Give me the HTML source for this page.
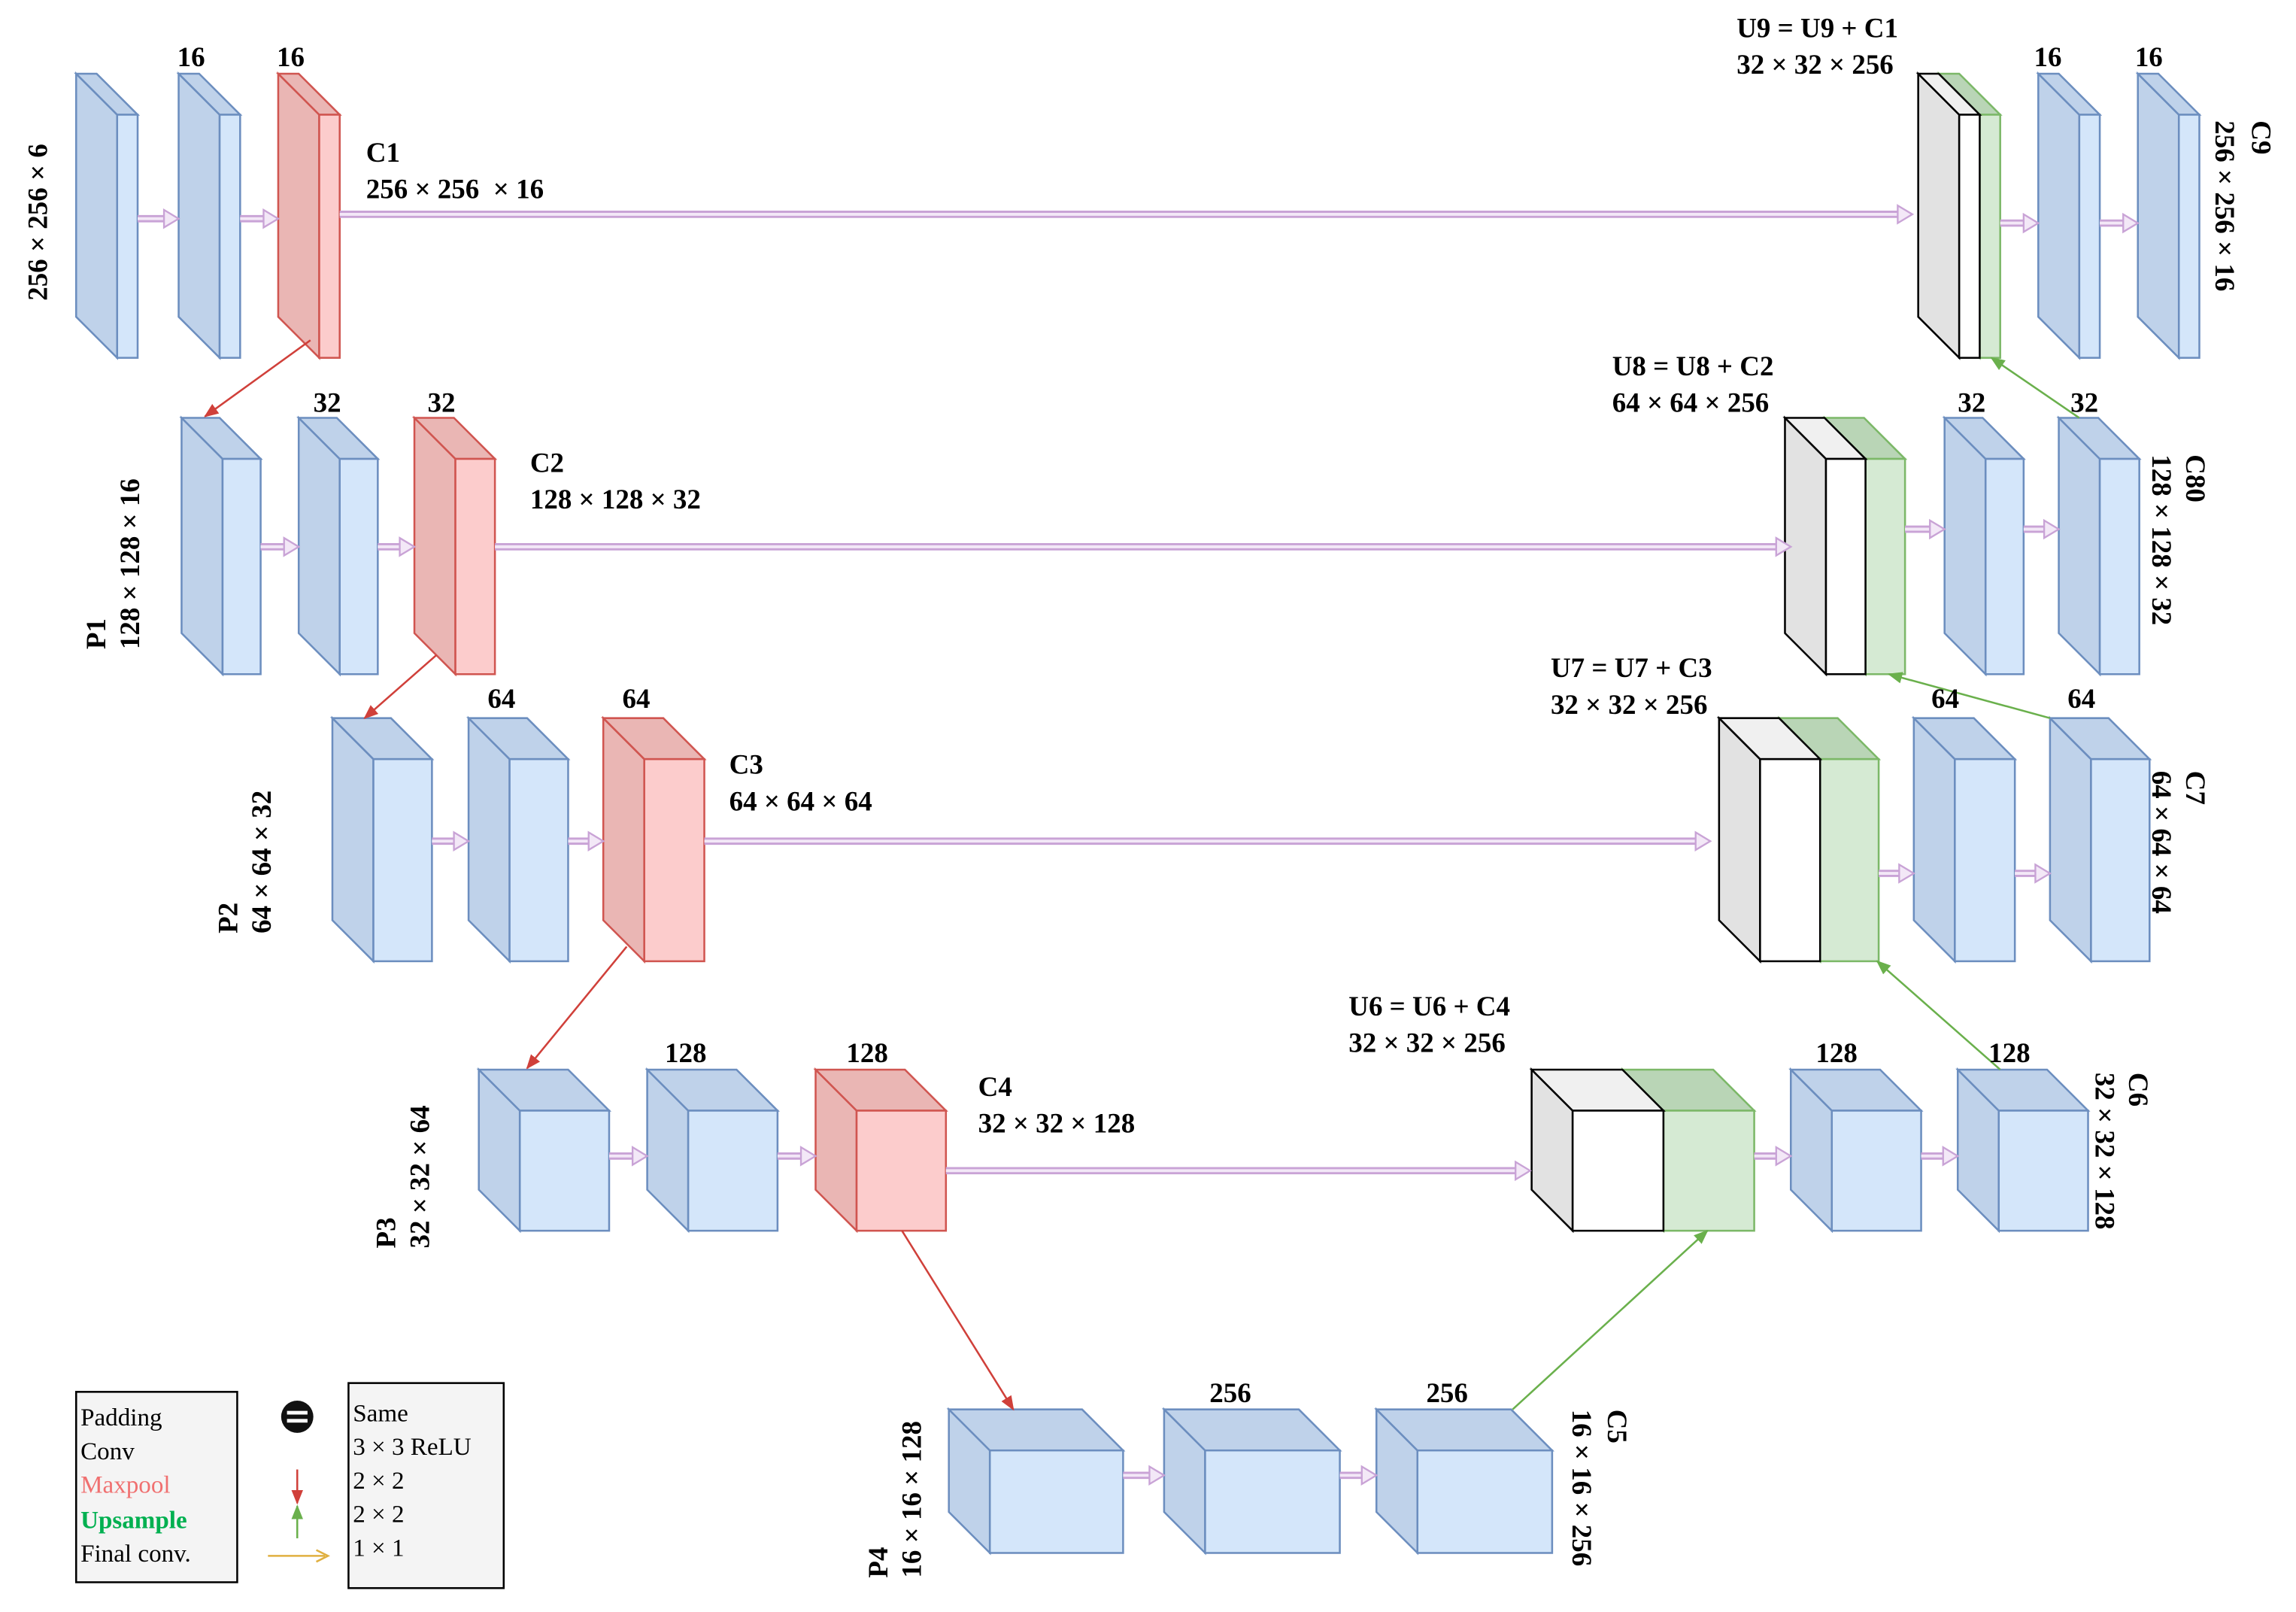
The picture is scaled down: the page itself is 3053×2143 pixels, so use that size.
<!DOCTYPE html>
<html><head><meta charset="utf-8"><style>
html,body{margin:0;padding:0;background:#fff}
svg{display:block}
text{font-family:"Liberation Serif",serif;font-weight:bold;font-size:19px;fill:#000}
.n{font-weight:normal}
</style></head><body>
<svg width="3053" height="2143" viewBox="0 0 1568 1100" xmlns="http://www.w3.org/2000/svg">
<defs>
<marker id="mr" markerWidth="10" markerHeight="10" refX="9" refY="5" orient="auto" markerUnits="userSpaceOnUse"><path d="M0,1 L10,5 L0,9 z" fill="#d0403a"/></marker>
<marker id="mg" markerWidth="10" markerHeight="10" refX="9" refY="5" orient="auto" markerUnits="userSpaceOnUse"><path d="M0,1 L10,5 L0,9 z" fill="#6ab04c"/></marker>
</defs>
<g id="blocks" stroke-width="1.3"></g>
<g id="arrows"></g>
<text x="121" y="45">16</text><text x="189" y="45">16</text>
<text x="250" y="110">C1</text><text x="250" y="135">256 × 256 &#160;× 16</text>
<text x="1186" y="25">U9 = U9 + C1</text><text x="1186" y="50">32 × 32 × 256</text>
<text x="1389" y="45">16</text><text x="1458" y="45">16</text>
<text x="214" y="281">32</text><text x="292" y="281">32</text>
<text x="362" y="322">C2</text><text x="362" y="347">128 × 128 × 32</text>
<text x="1101" y="256">U8 = U8 + C2</text><text x="1101" y="281">64 × 64 × 256</text>
<text x="1337" y="281">32</text><text x="1414" y="281">32</text>
<text x="333" y="483">64</text><text x="425" y="483">64</text>
<text x="498" y="528">C3</text><text x="498" y="553">64 × 64 × 64</text>
<text x="1059" y="462">U7 = U7 + C3</text><text x="1059" y="487">32 × 32 × 256</text>
<text x="1319" y="483">64</text><text x="1412" y="483">64</text>
<text x="454" y="725">128</text><text x="578" y="725">128</text>
<text x="668" y="748">C4</text><text x="668" y="773">32 × 32 × 128</text>
<text x="921" y="693">U6 = U6 + C4</text><text x="921" y="718">32 × 32 × 256</text>
<text x="1240" y="725">128</text><text x="1358" y="725">128</text>
<text x="826" y="957">256</text><text x="974" y="957">256</text>
<text transform="translate(32,205) rotate(-90)">256 × 256 × 6</text>
<text transform="translate(72,443) rotate(-90)">P1</text><text transform="translate(95,443) rotate(-90)">128 × 128 × 16</text>
<text transform="translate(162,637) rotate(-90)">P2</text><text transform="translate(185,637) rotate(-90)">64 × 64 × 32</text>
<text transform="translate(270,852) rotate(-90)">P3</text><text transform="translate(293,852) rotate(-90)">32 × 32 × 64</text>
<text transform="translate(606,1077) rotate(-90)">P4</text><text transform="translate(629,1077) rotate(-90)">16 × 16 × 128</text>
<text transform="translate(1538,82) rotate(90)">C9</text><text transform="translate(1513,82) rotate(90)">256 × 256 × 16</text>
<text transform="translate(1493,310) rotate(90)">C80</text><text transform="translate(1470,310) rotate(90)">128 × 128 × 32</text>
<text transform="translate(1493,526) rotate(90)">C7</text><text transform="translate(1470,526) rotate(90)">64 × 64 × 64</text>
<text transform="translate(1454,732) rotate(90)">C6</text><text transform="translate(1431,732) rotate(90)">32 × 32 × 128</text>
<text transform="translate(1098,962) rotate(90)">C5</text><text transform="translate(1074,962) rotate(90)">16 × 16 × 256</text>
<rect x="52" y="950" width="110" height="130" fill="#f4f4f4" stroke="#000" stroke-width="1.3"/>
<text class="n" x="55" y="973" style="font-size:17px">Padding</text>
<text class="n" x="55" y="996" style="font-size:17px">Conv</text>
<text class="n" x="55" y="1019" style="font-size:17px;fill:#f07070">Maxpool</text>
<text x="55" y="1043" style="font-size:17px;fill:#00b050">Upsample</text>
<text class="n" x="55" y="1066" style="font-size:17px">Final conv.</text>
<rect x="238" y="944" width="106" height="140" fill="#f4f4f4" stroke="#000" stroke-width="1.3"/>
<text class="n" x="241" y="970" style="font-size:17px">Same</text>
<text class="n" x="241" y="993" style="font-size:17px">3 × 3 ReLU</text>
<text class="n" x="241" y="1016" style="font-size:17px">2 × 2</text>
<text class="n" x="241" y="1039" style="font-size:17px">2 × 2</text>
<text class="n" x="241" y="1062" style="font-size:17px">1 × 1</text>
<circle cx="203" cy="967" r="11" fill="#111"/><rect x="196" y="963" width="14" height="2.5" fill="#fff"/><rect x="196" y="968.5" width="14" height="2.5" fill="#fff"/>
<line x1="203" y1="1003" x2="203" y2="1026" stroke="#d0403a" stroke-width="1.3" marker-end="url(#mr)"/>
<line x1="203" y1="1050" x2="203" y2="1028" stroke="#6ab04c" stroke-width="1.3" marker-end="url(#mg)"/>
<line x1="183" y1="1062" x2="222" y2="1062" stroke="#e0b040" stroke-width="1.3"/><path d="M216,1058 L224,1062 L216,1066" fill="none" stroke="#e0b040" stroke-width="1.3"/>
</svg>
<script>
const NS="http://www.w3.org/2000/svg";
const B=document.getElementById('blocks'),A=document.getElementById('arrows');
const C={b:['#d4e6fa','#bfd2ea','#6c8ebf'],r:['#fccccc','#eab6b4','#d05550'],g:['#d5ead3','#b9d5b6','#7cb868'],w:['#ffffff','#e2e2e2','#000']};
function el(t,a,p){const e=document.createElementNS(NS,t);for(const k in a)e.setAttribute(k,a[k]);(p||B).appendChild(e);return e;}
function cube(x1,x2,y1,y2,d,c){const [f,s,st]=C[c];
 el('polygon',{points:`${x1-d},${y1-d} ${x1},${y1} ${x1},${y2} ${x1-d},${y2-d}`,fill:s,stroke:st});
 el('polygon',{points:`${x1-d},${y1-d} ${x2-d},${y1-d} ${x2},${y1} ${x1},${y1}`,fill:c=='w'?'#f0f0f0':s,stroke:st});
 el('rect',{x:x1,y:y1,width:x2-x1,height:y2-y1,fill:f,stroke:st});}
const rows=[
 [78,244,[[80,94,'b'],[150,164,'b'],[218,232,'r'],[1352,1366,'g'],[1338,1352,'w'],[1420,1434,'b'],[1488,1502,'b']]],
 [313,460,[[152,178,'b'],[232,258,'b'],[311,338,'r'],[1274,1301,'g'],[1247,1274,'w'],[1356,1382,'b'],[1434,1461,'b']]],
 [518,656,[[255,295,'b'],[348,388,'b'],[440,481,'r'],[1243,1283,'g'],[1202,1243,'w'],[1335,1376,'b'],[1428,1468,'b']]],
 [758,840,[[355,416,'b'],[470,531,'b'],[585,646,'r'],[1136,1198,'g'],[1074,1136,'w'],[1251,1312,'b'],[1365,1426,'b']]],
 [990,1060,[[676,767,'b'],[823,915,'b'],[968,1060,'b']]]];
rows.forEach(r=>r[2].forEach(b=>cube(b[0],b[1],r[0],r[1],28,b[2])));
function pink(x1,x2,y){
 el('line',{x1,y1:y,x2:x2-8,y2:y,stroke:'#c9a3d6','stroke-width':5},A);
 el('line',{x1,y1:y,x2:x2-8,y2:y,stroke:'#f3e8f7','stroke-width':2},A);
 el('polygon',{points:`${x2-10},${y-6} ${x2},${y} ${x2-10},${y+6}`,fill:'#f3e8f7',stroke:'#c9a3d6','stroke-width':1.2},A);}
[[94,122,149],[164,190,149],[232,1306,146],[1366,1392,152],[1434,1460,152],
 [178,204,373],[258,283,373],[338,1223,373],[1301,1328,361],[1382,1406,361],
 [295,320,574],[388,412,574],[481,1168,574],[1283,1307,596],[1376,1400,596],
 [416,442,789],[531,557,789],[646,1045,799],[1198,1223,789],[1312,1337,789],
 [767,795,1007],[915,940,1007]].forEach(a=>pink(...a));
[[212,232,140,284],[298,447,249,490],[428,646,360,729],[616,840,692,962]].forEach(a=>el('line',{x1:a[0],y1:a[1],x2:a[2],y2:a[3],stroke:'#d0403a','stroke-width':1.3,'marker-end':'url(#mr)'},A));
[[1033,962,1166,840],[1366,730,1282,656],[1400,490,1290,460],[1420,285,1360,244]].forEach(a=>el('line',{x1:a[0],y1:a[1],x2:a[2],y2:a[3],stroke:'#6ab04c','stroke-width':1.3,'marker-end':'url(#mg)'},A));
</script>
</body></html>
